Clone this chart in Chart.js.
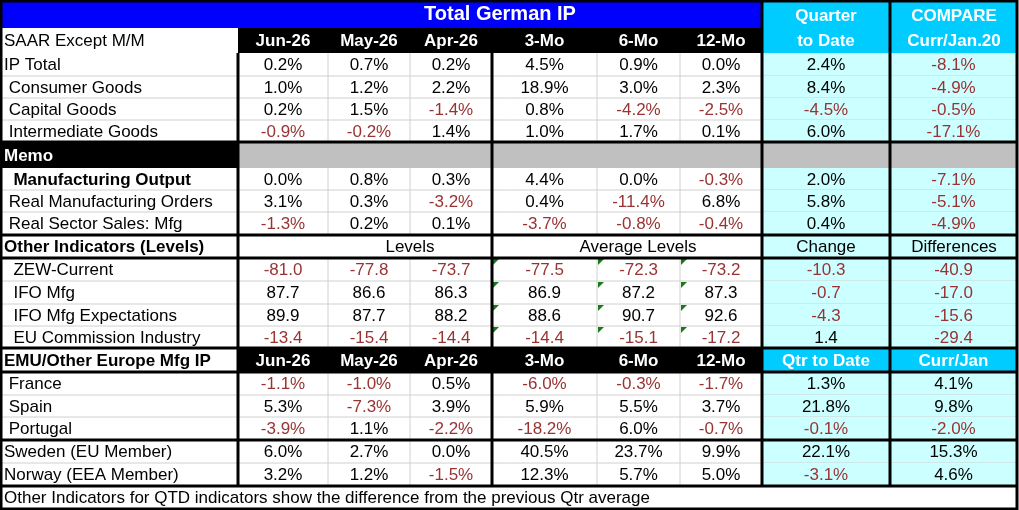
<!DOCTYPE html>
<html><head><meta charset="utf-8">
<script src="https://cdn.jsdelivr.net/npm/chart.js@4"></script>
<style>html,body{margin:0;padding:0;background:#fff}#wrap{width:1019px;height:510px}</style>
</head><body><div id="wrap"><canvas id="c"></canvas></div>
<script>
const title = "Total German IP";
const colHeaders = ["Jun-26","May-26","Apr-26","3-Mo","6-Mo","12-Mo"];
const rowLabels = ["IP Total"," Consumer Goods"," Capital Goods"," Intermediate Goods","Memo","  Manufacturing Output"," Real Manufacturing Orders"," Real Sector Sales: Mfg","Other Indicators (Levels)","  ZEW-Current","  IFO Mfg","  IFO Mfg Expectations","  EU Commission Industry","EMU/Other Europe Mfg IP"," France"," Spain"," Portugal","Sweden (EU Member)","Norway (EEA Member)"];
const jun = ["0.2%","1.0%","0.2%","-0.9%","","0.0%","3.1%","-1.3%","Levels","-81.0","87.7","89.9","-13.4","Jun-26","-1.1%","5.3%","-3.9%","6.0%","3.2%"];
const may = ["0.7%","1.2%","1.5%","-0.2%","","0.8%","0.3%","0.2%","","-77.8","86.6","87.7","-15.4","May-26","-1.0%","-7.3%","1.1%","2.7%","1.2%"];
const apr = ["0.2%","2.2%","-1.4%","1.4%","","0.3%","-3.2%","0.1%","","-73.7","86.3","88.2","-14.4","Apr-26","0.5%","3.9%","-2.2%","0.0%","-1.5%"];
const mo3 = ["4.5%","18.9%","0.8%","1.0%","","4.4%","0.4%","-3.7%","Average Levels","-77.5","86.9","88.6","-14.4","3-Mo","-6.0%","5.9%","-18.2%","40.5%","12.3%"];
const mo6 = ["0.9%","3.0%","-4.2%","1.7%","","0.0%","-11.4%","-0.8%","","-72.3","87.2","90.7","-15.1","6-Mo","-0.3%","5.5%","6.0%","23.7%","5.7%"];
const mo12 = ["0.0%","2.3%","-2.5%","0.1%","","-0.3%","6.8%","-0.4%","","-73.2","87.3","92.6","-17.2","12-Mo","-1.7%","3.7%","-0.7%","9.9%","5.0%"];
const qtd = ["2.4%","8.4%","-4.5%","6.0%","","2.0%","5.8%","0.4%","Change","-10.3","-0.7","-4.3","1.4","Qtr to Date","1.3%","21.8%","-0.1%","22.1%","-3.1%"];
const cmp = ["-8.1%","-4.9%","-0.5%","-17.1%","","-7.1%","-5.1%","-4.9%","Differences","-40.9","-17.0","-15.6","-29.4","Curr/Jan","4.1%","9.8%","-2.0%","15.3%","4.6%"];
const qtdHeader = ["Quarter","to Date"];
const cmpHeader = ["COMPARE","Curr/Jan.20"];
const headLeft = "SAAR Except M/M";
const footnote = "Other Indicators for QTD indicators show the difference from the previous Qtr average";

const colX = [0,238,328,410,492,597,680,762,890,1017];
const rowY = [53,76,98,120,142,168,190,212,235,258,281,304,326,348,372,395,417,440,463,486];
const RED = "#993333", LC = "#CCFFFF", DC = "#00CCFF", FONT = "'Liberation Sans', Arial, sans-serif";
const FS = 17;

const tablePlugin = {
  id: 'table',
  afterDraw(chart) {
    const ctx = chart.ctx, xs = chart.scales.x, ys = chart.scales.y;
    const X = v => xs.getPixelForValue(v), Y = v => ys.getPixelForValue(v);
    const rect = (x0,y0,x1,y1,c) => { ctx.fillStyle=c; ctx.fillRect(X(x0),Y(y0),X(x1)-X(x0),Y(y1)-Y(y0)); };
    const line = (x0,y0,x1,y1,c,w) => { ctx.strokeStyle=c; ctx.lineWidth=w; ctx.beginPath(); ctx.moveTo(X(x0),Y(y0)); ctx.lineTo(X(x1),Y(y1)); ctx.stroke(); };
    const text = (s,x,y,align,color,bold,size) => { ctx.fillStyle=color; ctx.font=(bold?'bold ':'')+(size||FS)+'px '+FONT; ctx.textAlign=align; ctx.textBaseline='middle'; ctx.fillText(s,X(x),Y(y)); };
    ctx.save();
    rect(0,0,1019,510,'#fff');
    rect(0,0,762,28,'#0000FF');
    rect(762,0,1017,53,DC);
    rect(238,28,762,53,'#000');
    text(title,500,14,'center','#fff',true,20);
    text(headLeft,4,41,'left','#000',false,FS);
    colHeaders.forEach((h,i)=>text(h,(colX[i+1]+colX[i+2])/2,41,'center','#fff',true,FS));
    text(qtdHeader[0],826,16,'center','#fff',true,FS); text(qtdHeader[1],826,41,'center','#fff',true,FS);
    text(cmpHeader[0],954,16,'center','#fff',true,FS); text(cmpHeader[1],954,41,'center','#fff',true,FS);
    const cols=[jun,may,apr,mo3,mo6,mo12,qtd,cmp];
    rowLabels.forEach((lab,r)=>{
      const y0=rowY[r], y1=rowY[r+1], ym=(y0+y1)/2+1;
      rect(762,y0,1017,y1,LC);
      if (r===4){ rect(0,y0,238,y1,'#000'); rect(238,y0,1017,y1,'#C0C0C0'); text(lab,4,ym,'left','#fff',true,FS); return; }
      if (r===13){ rect(238,y0,762,y1,'#000'); rect(762,y0,1017,y1,DC); }
      const bold = (r===5||r===8||r===13);
      text(lab,4,ym,'left','#000',bold,FS);
      if (r!==8 && r!==13){ for(let c=2;c<colX.length-1;c++) if(c!==4&&c!==7&&c!==8) line(colX[c],y0,colX[c],y1,'#d0d0d0',1); }
      line(0,y1,1017,y1,'#d0d0d0',1);
      if (r===8){
        text(jun[r],410,ym,'center','#000',false,FS); text(mo3[r],638,ym,'center','#000',false,FS);
        text(qtd[r],826,ym,'center','#000',false,FS); text(cmp[r],954,ym,'center','#000',false,FS); return;
      }
      cols.forEach((arr,c)=>{
        const s=arr[r]; const xm=(colX[c+1]+colX[c+2])/2;
        if (r===13){ text(s,xm,ym,'center','#fff',true,FS); return; }
        text(s,xm,ym,'center',s.startsWith('-')?RED:'#000',false,FS);
      });
      if (r>=9&&r<=12){ ctx.fillStyle='#1a7a1a'; [492,597,680].forEach(x=>{ctx.beginPath();ctx.moveTo(X(x+1),Y(y0+1));ctx.lineTo(X(x+7),Y(y0+1));ctx.lineTo(X(x+1),Y(y0+7));ctx.fill();}); }
    });
    text(footnote,4,498,'left','#000',false,FS);
    [238,492].forEach(x=>line(x,53,x,486,'#000',3));
    [762,890].forEach(x=>line(x,0,x,486,'#000',3));
    [142,235,258,348,372,440,486].forEach(y=>line(0,y,1017,y,'#000',3));
    ctx.lineWidth=3; ctx.strokeStyle='#000'; ctx.strokeRect(X(1),Y(1),X(1017)-X(1),Y(509)-Y(1));
    ctx.restore();
  }
};

new Chart(document.getElementById('c'), {
  type:'scatter',
  data:{datasets:[{data:[],pointRadius:0}]},
  options:{responsive:true,maintainAspectRatio:false,animation:false,
    layout:{padding:0},
    plugins:{legend:{display:false},tooltip:{enabled:false}},
    scales:{x:{type:'linear',min:0,max:1019,display:false},y:{type:'linear',min:0,max:510,reverse:true,display:false}}},
  plugins:[tablePlugin]
});
</script></body></html>
